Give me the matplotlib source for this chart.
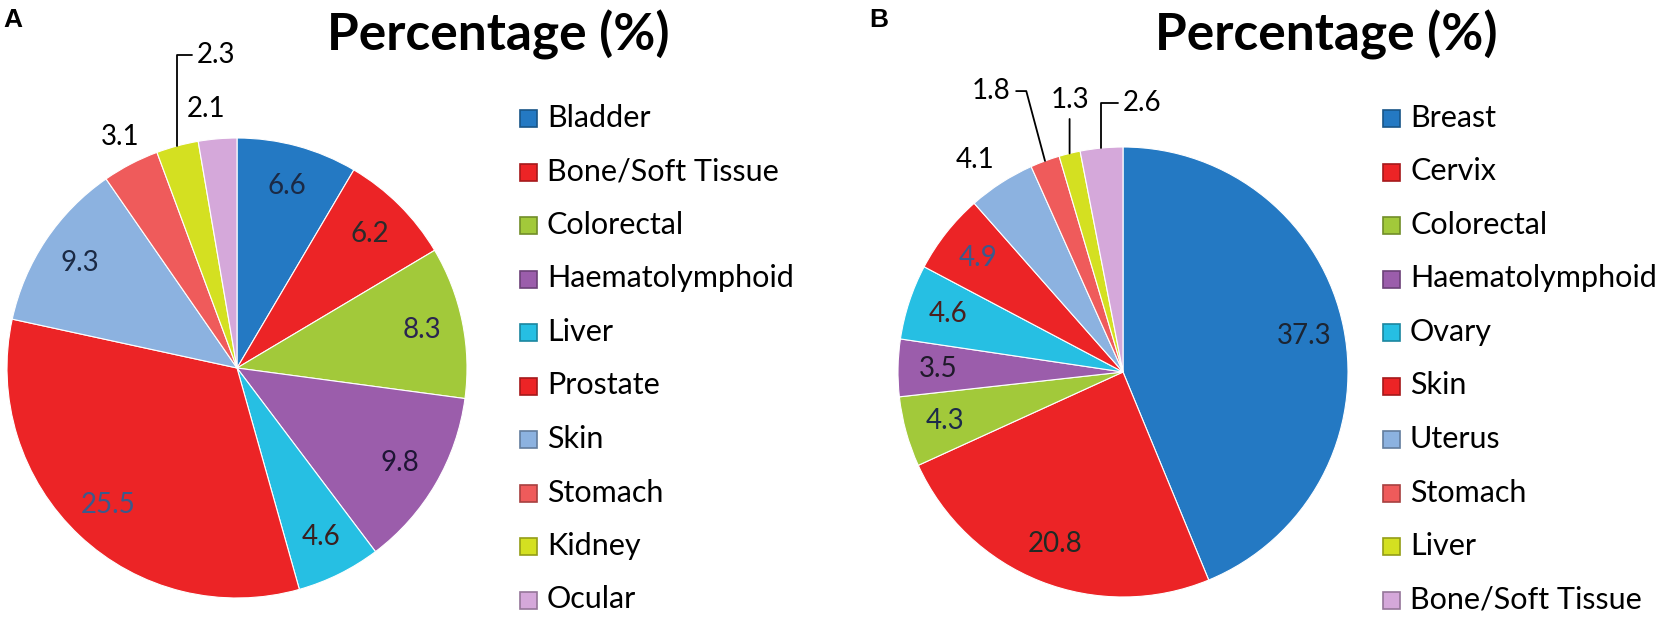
import matplotlib.pyplot as plt
import numpy as np
from matplotlib.patches import Rectangle
from matplotlib.colors import to_rgb

W, H = 1659, 622

# panel A
names_a = ["Bladder", "Bone/Soft Tissue", "Colorectal", "Haematolymphoid", "Liver",
           "Prostate", "Skin", "Stomach", "Kidney", "Ocular"]
values_a = [6.6, 6.2, 8.3, 9.8, 4.6, 25.5, 9.3, 3.1, 2.3, 2.1]

# panel B
names_b = ["Breast", "Cervix", "Colorectal", "Haematolymphoid", "Ovary",
           "Skin", "Uterus", "Stomach", "Liver", "Bone/Soft Tissue"]
values_b = [37.3, 20.8, 4.3, 3.5, 4.6, 4.9, 4.1, 1.8, 1.3, 2.6]

BLUE, RED, GREEN, PURPLE = "#2479c3", "#ec2426", "#a2c93a", "#9b5dab"
CYAN, LBLUE, LRED, YGREEN, PINK = "#26bfe3", "#8cb2e0", "#ef5b5b", "#d4e021", "#d5a8da"

colors_a = [BLUE, RED, GREEN, PURPLE, CYAN, RED, LBLUE, LRED, YGREEN, PINK]
colors_b = [BLUE, RED, GREEN, PURPLE, CYAN, RED, LBLUE, LRED, YGREEN, PINK]

txt_a = ["#1b2a45", "#2b2b2b", "#2a2450", "#1f1535", "#3a1f1f", "#3b5a8c", "#1b2a45"]
txt_b = ["#1c2533", "#1f2a24", "#1c2a4a", "#1f1a2a", "#4a1f1f", "#3b5a8c"]

FONT = "Lato"

fig = plt.figure(figsize=(W / 100, H / 100), dpi=100)
fig.patch.set_facecolor("white")

# overlay axes in pixel coordinates for titles and legends
ax0 = fig.add_axes([0, 0, 1, 1])
ax0.set_xlim(0, W)
ax0.set_ylim(H, 0)
ax0.axis("off")


def darker(c, f=0.7):
    r, g, b = to_rgb(c)
    return (r * f, g * f, b * f)


def panel(cx, cy, R, values, names, colors, txtcols, outer, title_x, leg_x, letter, letter_x):
    ax = fig.add_axes([(cx - R) / W, (H - cy - R) / H, 2 * R / W, 2 * R / H])
    wedges, _ = ax.pie(values, colors=colors, startangle=90, counterclock=False,
                       wedgeprops=dict(edgecolor="white", linewidth=0.8))
    ax.set_xlim(-1, 1)
    ax.set_ylim(-1, 1)

    mids = [np.deg2rad((w.theta1 + w.theta2) / 2) for w in wedges]

    # values inside the big slices
    for i, col in enumerate(txtcols):
        ax.text(0.82 * np.cos(mids[i]), 0.82 * np.sin(mids[i]), f"{values[i]:.1f}",
                ha="center", va="center", fontsize=20, family=FONT, color=col)

    # small slices: labels outside, some with leader lines
    for i, dx, dy, ha, va, conn in outer:
        ex, ey = np.cos(mids[i]), np.sin(mids[i])
        props = None
        if conn:
            props = dict(arrowstyle="-", color="black", lw=1.3, connectionstyle=conn,
                         shrinkA=2, shrinkB=0)
        ax.annotate(f"{values[i]:.1f}", xy=(ex, ey), xytext=(ex + dx, ey + dy),
                    ha=ha, va=va, fontsize=20, family=FONT, color="black",
                    arrowprops=props, annotation_clip=False)

    ax0.text(title_x, 50, "Percentage (%)", ha="center", va="baseline",
             fontsize=37, family=FONT, weight="bold")
    ax0.text(letter_x, 27, letter, ha="left", va="baseline", fontsize=19,
             family="Liberation Sans", weight="bold")

    # legend
    for k, (nm, c) in enumerate(zip(names, colors)):
        y = 118 + k * 53.5
        ax0.add_patch(Rectangle((leg_x, y - 8), 17, 17, facecolor=c,
                                edgecolor=darker(c), lw=1.2))
        ax0.text(leg_x + 27, y, nm, ha="left", va="center", fontsize=22, family=FONT)
    return ax


outer_a = [
    (7, -0.047, 0.117, "center", "center", None),
    (8, 0.086, 0.36, "left", "baseline", "angle,angleA=0,angleB=90,rad=0"),
    (9, -0.05, 0.13, "center", "center", None),
]
outer_b = [
    (6, -0.118, 0.10, "center", "center", None),
    (7, -0.153, 0.275, "right", "baseline", "angle,angleA=0,angleB=105,rad=0"),
    (8, 0.0, 0.20, "center", "baseline", "arc3"),
    (9, 0.096, 0.165, "left", "baseline", "angle,angleA=0,angleB=90,rad=0"),
]

panel(237, 368, 230, values_a, names_a, colors_a, txt_a, outer_a, 498, 520, "A", 3)
panel(1123, 372, 225, values_b, names_b, colors_b, txt_b, outer_b, 1326, 1383, "B", 869)

fig.savefig("out.png", dpi=100, facecolor="white")
